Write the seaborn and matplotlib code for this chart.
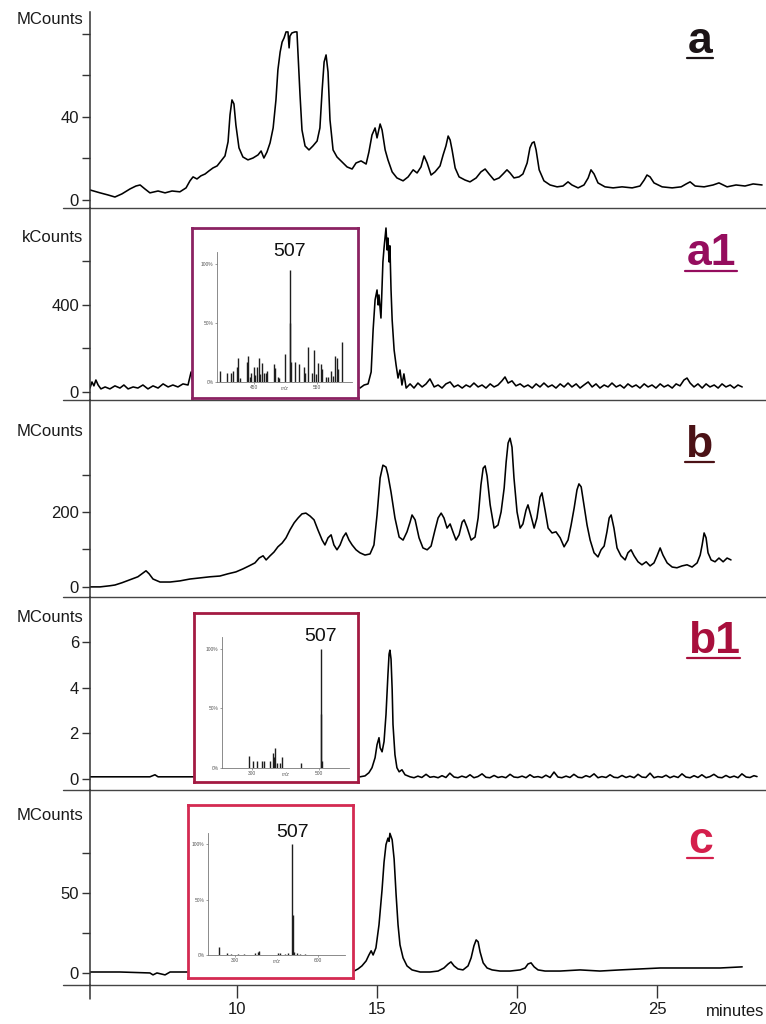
import matplotlib
matplotlib.use("Agg")
import matplotlib.pyplot as plt
import seaborn as sns
import pandas as pd
from matplotlib.lines import Line2D

# chromatogram traces, (minutes, signal)
a_trace = [
    (4.75, 4.8), (5.11, 3.4), (5.39, 2.4), (5.64, 1.4), (5.89, 2.9), (6.18, 5.3), (6.39, 6.7),
    (6.54, 7.2), (6.71, 5.3), (6.89, 3.4), (7.18, 4.3), (7.43, 3.4), (7.68, 4.3), (7.96, 3.9),
    (8.18, 5.8), (8.32, 9.2), (8.43, 11.1), (8.57, 10.1), (8.71, 11.6), (8.86, 12.5), (9.0, 14.0),
    (9.14, 15.4), (9.29, 16.4), (9.43, 18.8), (9.57, 21.2), (9.68, 28.0), (9.75, 41.0), (9.82, 48.2),
    (9.89, 46.3), (9.96, 36.1), (10.07, 25.1), (10.21, 20.7), (10.39, 19.3), (10.57, 20.2),
    (10.75, 21.7), (10.86, 23.6), (10.96, 20.2), (11.07, 23.1), (11.18, 27.5), (11.29, 34.7),
    (11.39, 48.2), (11.46, 62.7), (11.54, 71.3), (11.61, 76.1), (11.68, 78.1), (11.75, 81.0),
    (11.82, 81.0), (11.86, 73.3), (11.89, 79.0), (11.96, 80.5), (12.07, 81.0), (12.14, 81.0),
    (12.18, 69.9), (12.25, 50.6), (12.32, 33.7), (12.43, 26.0), (12.57, 24.1), (12.71, 26.0),
    (12.86, 28.4), (12.96, 34.7), (13.04, 53.0), (13.11, 66.5), (13.18, 69.9), (13.25, 61.7),
    (13.32, 38.6), (13.43, 24.1), (13.57, 20.7), (13.75, 18.3), (13.93, 15.9), (14.11, 14.9),
    (14.25, 17.8), (14.43, 18.8), (14.61, 17.3), (14.71, 23.1), (14.82, 31.3), (14.93, 34.7),
    (15.0, 29.9), (15.11, 36.6), (15.18, 33.7), (15.29, 24.1), (15.39, 19.3), (15.54, 13.5),
    (15.71, 10.6), (15.93, 9.2), (16.11, 11.1), (16.29, 14.5), (16.43, 13.0), (16.57, 15.9),
    (16.68, 21.2), (16.79, 17.8), (16.93, 12.0), (17.07, 13.5), (17.25, 16.4), (17.36, 21.7),
    (17.46, 26.0), (17.54, 30.8), (17.61, 28.9), (17.68, 24.1), (17.79, 15.4), (17.93, 11.1),
    (18.14, 9.6), (18.32, 8.7), (18.54, 10.6), (18.71, 13.5), (18.86, 14.9), (19.0, 12.5),
    (19.18, 9.6), (19.36, 10.6), (19.5, 12.5), (19.64, 14.5), (19.75, 13.0), (19.89, 10.6),
    (20.07, 11.1), (20.21, 12.5), (20.36, 17.8), (20.46, 25.1), (20.54, 27.5), (20.61, 28.0),
    (20.68, 24.1), (20.79, 14.5), (20.96, 9.2), (21.18, 7.2), (21.43, 6.3), (21.64, 6.7),
    (21.82, 8.7), (21.96, 7.2), (22.18, 5.8), (22.39, 7.2), (22.54, 10.6), (22.64, 14.5),
    (22.75, 12.5), (22.89, 8.2), (23.14, 6.3), (23.43, 5.8), (23.75, 6.3), (24.11, 5.8),
    (24.39, 6.7), (24.54, 9.6), (24.64, 12.0), (24.75, 11.1), (24.89, 8.2), (25.18, 6.3),
    (25.54, 5.8), (25.86, 6.3), (26.04, 7.7), (26.18, 8.7), (26.36, 6.7), (26.68, 6.3),
    (27.0, 7.2), (27.21, 8.2), (27.5, 6.3), (27.82, 7.2), (28.14, 6.7), (28.43, 7.7), (28.75, 7.2),
]

a1_trace = [
    (4.75, 18), (4.82, 46), (4.89, 28), (4.96, 55), (5.04, 32), (5.14, 14), (5.29, 23), (5.46, 14),
    (5.64, 28), (5.82, 18), (5.96, 32), (6.11, 14), (6.29, 23), (6.46, 18), (6.64, 32), (6.82, 14),
    (7.0, 28), (7.18, 18), (7.36, 37), (7.54, 23), (7.71, 32), (7.89, 23), (8.07, 37), (8.25, 32),
    (8.36, 92), (8.43, 37), (8.68, 28), (10.46, 32), (12.25, 28), (14.21, 32), (14.39, 18),
    (14.54, 32), (14.68, 37), (14.79, 92), (14.86, 285), (14.93, 423), (15.0, 469), (15.04, 400),
    (15.07, 446), (15.14, 340), (15.21, 598), (15.25, 662), (15.32, 754), (15.36, 653),
    (15.39, 708), (15.43, 598), (15.46, 672), (15.5, 469), (15.54, 331), (15.61, 193),
    (15.68, 124), (15.75, 64), (15.82, 101), (15.89, 32), (15.96, 83), (16.04, 18), (16.18, 37),
    (16.32, 18), (16.46, 41), (16.61, 23), (16.75, 37), (16.89, 60), (17.04, 23), (17.18, 32),
    (17.32, 18), (17.46, 37), (17.61, 46), (17.75, 23), (17.89, 32), (18.04, 18), (18.18, 32),
    (18.32, 23), (18.46, 41), (18.61, 23), (18.75, 32), (18.89, 18), (19.04, 37), (19.18, 23),
    (19.32, 32), (19.46, 51), (19.57, 69), (19.68, 41), (19.82, 51), (19.96, 28), (20.11, 37),
    (20.25, 23), (20.39, 32), (20.54, 18), (20.68, 37), (20.82, 23), (20.96, 41), (21.11, 23),
    (21.25, 32), (21.39, 18), (21.54, 37), (21.68, 23), (21.82, 41), (21.96, 23), (22.11, 37),
    (22.25, 18), (22.39, 32), (22.54, 46), (22.68, 23), (22.82, 37), (22.96, 18), (23.11, 32),
    (23.25, 23), (23.39, 41), (23.54, 23), (23.68, 32), (23.82, 18), (23.96, 37), (24.11, 23),
    (24.25, 32), (24.39, 18), (24.54, 37), (24.68, 23), (24.82, 32), (24.96, 18), (25.11, 37),
    (25.25, 23), (25.39, 32), (25.54, 18), (25.68, 37), (25.82, 28), (25.96, 55), (26.07, 64),
    (26.18, 41), (26.32, 23), (26.46, 37), (26.61, 18), (26.75, 37), (26.89, 23), (27.04, 32),
    (27.18, 18), (27.32, 37), (27.46, 23), (27.61, 32), (27.75, 18), (27.89, 32), (28.04, 23),
]

b_trace = [
    (4.75, 0), (5.11, 0), (5.46, 3), (5.64, 5), (5.89, 11), (6.18, 19), (6.46, 27), (6.64, 37),
    (6.75, 43), (6.86, 35), (7.0, 21), (7.25, 13), (7.61, 13), (7.96, 16), (8.32, 21), (8.68, 24),
    (9.04, 27), (9.39, 29), (9.68, 35), (9.96, 40), (10.21, 48), (10.43, 56), (10.64, 64),
    (10.79, 77), (10.93, 83), (11.04, 72), (11.18, 83), (11.32, 93), (11.46, 107), (11.61, 117),
    (11.75, 131), (11.89, 152), (12.04, 171), (12.18, 184), (12.32, 195), (12.46, 197),
    (12.61, 189), (12.75, 179), (12.89, 152), (13.04, 125), (13.14, 112), (13.25, 131),
    (13.36, 139), (13.46, 112), (13.57, 99), (13.68, 112), (13.79, 133), (13.89, 144), (14.0, 125),
    (14.11, 112), (14.25, 99), (14.39, 91), (14.57, 85), (14.75, 88), (14.89, 112), (15.0, 192),
    (15.11, 291), (15.21, 325), (15.32, 320), (15.39, 299), (15.5, 253), (15.64, 184),
    (15.79, 133), (15.93, 125), (16.07, 147), (16.18, 173), (16.25, 192), (16.36, 179),
    (16.5, 131), (16.64, 104), (16.79, 99), (16.93, 109), (17.07, 152), (17.18, 184), (17.29, 197),
    (17.39, 184), (17.5, 157), (17.61, 168), (17.71, 147), (17.82, 125), (17.93, 139), (18.04, 173),
    (18.11, 179), (18.21, 160), (18.36, 125), (18.5, 133), (18.61, 184), (18.71, 272), (18.79, 317),
    (18.86, 323), (18.93, 296), (19.04, 219), (19.18, 157), (19.32, 165), (19.43, 200),
    (19.54, 264), (19.61, 333), (19.68, 384), (19.75, 397), (19.82, 373), (19.89, 291),
    (20.0, 200), (20.11, 157), (20.21, 168), (20.32, 205), (20.39, 219), (20.5, 189), (20.61, 157),
    (20.71, 184), (20.82, 240), (20.89, 251), (21.0, 205), (21.11, 157), (21.25, 144), (21.39, 147),
    (21.54, 131), (21.68, 107), (21.82, 125), (21.93, 165), (22.04, 211), (22.14, 259),
    (22.21, 275), (22.29, 267), (22.39, 219), (22.5, 165), (22.61, 125), (22.75, 91), (22.89, 80),
    (23.0, 99), (23.11, 109), (23.21, 147), (23.29, 184), (23.36, 192), (23.46, 157), (23.57, 104),
    (23.71, 83), (23.86, 72), (23.96, 91), (24.07, 99), (24.18, 83), (24.32, 67), (24.46, 59),
    (24.61, 67), (24.75, 56), (24.89, 64), (25.0, 83), (25.11, 104), (25.21, 85), (25.36, 64),
    (25.54, 53), (25.71, 51), (25.89, 56), (26.07, 59), (26.25, 53), (26.43, 64), (26.54, 85),
    (26.61, 112), (26.68, 144), (26.75, 131), (26.82, 91), (26.93, 72), (27.07, 67), (27.21, 77),
    (27.36, 67), (27.5, 77), (27.64, 72),
]

b1_trace = [
    (4.75, 0.09), (5.82, 0.09), (6.89, 0.09), (7.07, 0.18), (7.18, 0.09), (8.32, 0.09),
    (11.0, 0.09), (14.39, 0.09), (14.57, 0.13), (14.71, 0.27), (14.82, 0.49), (14.93, 0.93),
    (15.0, 1.5), (15.07, 1.81), (15.11, 1.37), (15.18, 1.19), (15.25, 1.64), (15.32, 2.83),
    (15.39, 4.6), (15.43, 5.49), (15.46, 5.66), (15.5, 5.27), (15.54, 3.94), (15.57, 2.39),
    (15.64, 1.06), (15.71, 0.49), (15.79, 0.31), (15.89, 0.4), (16.0, 0.18), (16.18, 0.09),
    (16.32, 0.05), (16.46, 0.12), (16.6, 0.06), (16.75, 0.2), (16.89, 0.07), (17.03, 0.1),
    (17.18, 0.05), (17.32, 0.14), (17.46, 0.06), (17.6, 0.25), (17.75, 0.08), (17.89, 0.05),
    (18.03, 0.12), (18.18, 0.06), (18.32, 0.18), (18.46, 0.05), (18.6, 0.1), (18.75, 0.22),
    (18.89, 0.07), (19.03, 0.05), (19.18, 0.15), (19.32, 0.06), (19.46, 0.1), (19.6, 0.05),
    (19.75, 0.2), (19.89, 0.08), (20.03, 0.06), (20.18, 0.12), (20.32, 0.05), (20.46, 0.18),
    (20.6, 0.07), (20.75, 0.1), (20.89, 0.05), (21.03, 0.16), (21.18, 0.06), (21.32, 0.3),
    (21.46, 0.08), (21.6, 0.05), (21.75, 0.12), (21.89, 0.06), (22.03, 0.2), (22.18, 0.07),
    (22.32, 0.05), (22.46, 0.14), (22.6, 0.08), (22.75, 0.22), (22.89, 0.05), (23.03, 0.1),
    (23.18, 0.06), (23.32, 0.18), (23.46, 0.07), (23.6, 0.05), (23.75, 0.15), (23.89, 0.06),
    (24.03, 0.12), (24.18, 0.05), (24.32, 0.2), (24.46, 0.08), (24.6, 0.06), (24.75, 0.25),
    (24.89, 0.05), (25.03, 0.1), (25.18, 0.07), (25.32, 0.16), (25.46, 0.05), (25.6, 0.12),
    (25.75, 0.06), (25.89, 0.22), (26.03, 0.08), (26.18, 0.05), (26.32, 0.14), (26.46, 0.06),
    (26.6, 0.18), (26.75, 0.05), (26.89, 0.1), (27.03, 0.2), (27.18, 0.07), (27.32, 0.05),
    (27.46, 0.15), (27.6, 0.06), (27.75, 0.12), (27.89, 0.05), (28.03, 0.22), (28.18, 0.08),
    (28.32, 0.06), (28.46, 0.14), (28.57, 0.1),
]

c_trace = [
    (4.75, 0.6), (5.82, 0.6), (6.89, 0.0), (7.0, -1.2), (7.14, 0.0), (7.43, -1.2), (7.61, 0.6),
    (8.32, 0.6), (11.0, 0.6), (14.18, 1.2), (14.32, 2.5), (14.46, 4.4), (14.61, 7.5), (14.71, 11.2),
    (14.79, 13.8), (14.86, 11.2), (14.96, 15.6), (15.07, 30), (15.18, 52), (15.25, 69), (15.32, 80),
    (15.39, 84), (15.43, 82), (15.46, 87), (15.54, 83), (15.61, 71), (15.68, 49), (15.75, 30),
    (15.82, 17.5), (15.93, 9.4), (16.07, 4.4), (16.25, 1.9), (16.54, 0.6), (16.89, 0.6),
    (17.18, 1.2), (17.39, 3.1), (17.54, 5.6), (17.64, 6.9), (17.75, 4.4), (17.89, 2.5), (18.07, 1.9),
    (18.25, 4.4), (18.36, 9.4), (18.46, 16.9), (18.54, 20.6), (18.61, 19.4), (18.68, 13.1),
    (18.79, 6.3), (18.93, 3.1), (19.11, 1.9), (19.39, 1.2), (19.75, 1.2), (20.11, 1.9), (20.29, 3.1),
    (20.39, 5.6), (20.5, 6.3), (20.61, 3.8), (20.75, 1.9), (21.0, 1.2), (21.54, 1.2), (22.25, 1.9),
    (22.96, 1.2), (23.68, 1.9), (24.39, 2.5), (25.11, 3.1), (25.82, 3.1), (26.54, 3.1),
    (27.25, 3.1), (28.04, 3.8),
]

# inset mass spectra (m/z, relative abundance %)
a1_mz = [397, 408, 414, 417, 424, 425.5, 429, 439.5, 440.5, 444, 446, 450, 452.6, 456, 458,
         460.5, 464, 467, 470, 472, 481.6, 484.7, 488, 491, 500, 507, 508, 510, 516, 522, 530,
         531, 536.6, 543, 545.5, 549.7, 552, 557.6, 559, 565.5, 568, 573, 576, 579, 581.6, 584,
         589.7]
a1_pct = [9, 8, 8, 9, 13, 20, 3, 17, 22, 4, 8, 13, 6, 13, 20, 7, 16, 8, 8, 9, 15, 12, 4, 3, 24,
          95, 50, 17, 17, 15, 13, 8, 30, 8, 27, 7, 16, 15, 11, 4, 4, 9, 5, 22, 20, 11, 34]

b1_mz = [291, 303, 316, 331, 336, 353, 363, 366, 370, 375, 385, 391, 446, 507, 508, 510]
b1_pct = [10, 6, 6, 6, 6, 6, 13, 9, 17, 4, 4, 9, 4, 100, 45, 6]

c_mz = [244, 274, 288, 312, 334, 372, 384, 386, 456, 462, 480, 492, 507, 508, 512, 524, 536, 554]
c_pct = [7, 1.5, 1, 1, 1, 1.5, 3, 4, 1.5, 2, 1, 1.5, 100, 36, 3, 2, 1, 1]

panel_letters = ["a", "a1", "b", "b1", "c"]
panel_units = ["MCounts", "kCounts", "MCounts", "MCounts", "MCounts"]
panel_major = [[0, 40], [0, 400], [0, 200], [0, 2, 4, 6], [0, 50]]
panel_minor = [[20, 60, 80], [200, 600], [100, 300], [], [25, 75]]
time_ticks = [10, 15, 20, 25]

W, H = 766, 1024


def fx(px):
    return px / W


def fy(py):
    return 1 - py / H


sns.set_style("ticks")
plt.rcParams['font.family'] = ['Liberation Sans', 'DejaVu Sans']

fig = plt.figure(figsize=(W / 100, H / 100), dpi=100)

traces = [a_trace, a1_trace, b_trace, b1_trace, c_trace]
# pixel geometry: top, bottom, ylim, unit label y, letter x, letter baseline, underline y, underline x
layout = [
    (12, 208, (-3.9, 90.6), 20, 700, 53, 58, (687, 713)),
    (208, 400, (-37, 846), 238, 711, 265, 271, (685, 737)),
    (400, 597, (-27, 499), 432, 699, 457, 462, (685, 714)),
    (597, 790, (-0.49, 8.0), 617, 714, 653, 658, (687, 740)),
    (790, 985, (-7.5, 114), 815, 701, 853, 858, (687, 713)),
]
letter_colors = ["#1c1416", "#950d5e", "#4b1216", "#a80f3c", "#d41f4c"]

axes = []
for i, (trace, lay) in enumerate(zip(traces, layout)):
    top, bottom, ylim, unit_y, lx, lby, uy, ux = lay
    ax = fig.add_axes([fx(90), fy(bottom), fx(766) - fx(90), (bottom - top) / H])
    ax.set_facecolor("none")
    df = pd.DataFrame(trace, columns=["minutes", "signal"])
    sns.lineplot(data=df, x="minutes", y="signal", ax=ax, color="black", lw=1.15,
                 estimator=None, sort=False)
    ax.set_xlim(4.75, 28.89)
    ax.set_ylim(*ylim)
    ax.set_xlabel("")
    ax.set_ylabel("")
    for s in ["top", "right", "bottom"]:
        ax.spines[s].set_visible(False)
    ax.spines["left"].set_color("#333333")
    ax.spines["left"].set_linewidth(1.1)
    ax.plot([-0.04, 1], [0, 0], transform=ax.transAxes, color="#444444", lw=1.0, clip_on=False)
    ax.set_yticks(panel_major[i])
    ax.set_yticks(panel_minor[i], minor=True)
    ax.tick_params(axis="y", which="both", direction="out", length=6, width=1.0,
                   color="#333333", labelsize=12, pad=2, labelcolor="#1a1a1a")
    if i < 4:
        ax.set_xticks([])
    else:
        ax.set_xticks(time_ticks)
        ax.tick_params(axis="x", direction="out", length=9, width=1.0, color="#333333",
                       labelsize=12, pad=3, labelcolor="#1a1a1a")
        ax.plot([0, 0], [0, -0.07], transform=ax.transAxes, color="#333333", lw=1.1,
                clip_on=False)
    fig.text(fx(83), fy(unit_y), panel_units[i], ha="right", va="center", fontsize=12,
             color="#1a1a1a")
    fig.text(fx(lx), fy(lby), panel_letters[i], ha="center", va="baseline", fontsize=32,
             fontweight="bold", color=letter_colors[i])
    fig.add_artist(Line2D([fx(ux[0]), fx(ux[1])], [fy(uy), fy(uy)], color=letter_colors[i],
                          lw=1.6))
    axes.append(ax)

fig.text(fx(764), fy(1012), "minutes", ha="right", va="center", fontsize=12, color="#1a1a1a")

# insets: box px, spectrum px, xlim, xticks, colour
insets = [
    ((192, 228, 358, 398), (217, 252, 352, 382), (392, 606), [450, 550], "#8b2262", a1_mz, a1_pct),
    ((194, 613, 358, 782), (222, 637, 349, 768), (210, 591), [300, 500], "#a31a42", b1_mz, b1_pct),
    ((188, 805, 353, 978), (208, 833, 345, 955), (204, 696), [300, 600], "#d42a52", c_mz, c_pct),
]

for box, spec, xlim, xt, col, mz, pct in insets:
    bx = fig.add_axes([fx(box[0]), fy(box[3]), (box[2] - box[0]) / W, (box[3] - box[1]) / H])
    bx.set_facecolor("white")
    bx.set_xticks([])
    bx.set_yticks([])
    for s in bx.spines.values():
        s.set_visible(True)
        s.set_color(col)
        s.set_linewidth(2.0)
    sx = fig.add_axes([fx(spec[0]), fy(spec[3]), (spec[2] - spec[0]) / W, (spec[3] - spec[1]) / H])
    sx.set_facecolor("none")
    sx.vlines(mz, 0, pct, color="#1e1e1e", lw=1.0)
    sx.set_xlim(*xlim)
    sx.set_ylim(0, 110)
    for s in ["top", "right"]:
        sx.spines[s].set_visible(False)
    for s in ["left", "bottom"]:
        sx.spines[s].set_color("#777777")
        sx.spines[s].set_linewidth(0.6)
    sx.set_yticks([0, 50, 100])
    sx.set_yticklabels(["0%", "50%", "100%"])
    sx.set_xticks(xt)
    sx.tick_params(axis="both", length=1.5, width=0.5, color="#777777", labelsize=3.5,
                   pad=1, labelcolor="#555555")
    sx.set_xlabel("m/z", fontsize=3.5, style="italic", labelpad=-3.5, color="#555555")
    sx.text(507, 103, "507", ha="center", va="bottom", fontsize=14, color="#111111")

fig.savefig("out.png", dpi=100)
